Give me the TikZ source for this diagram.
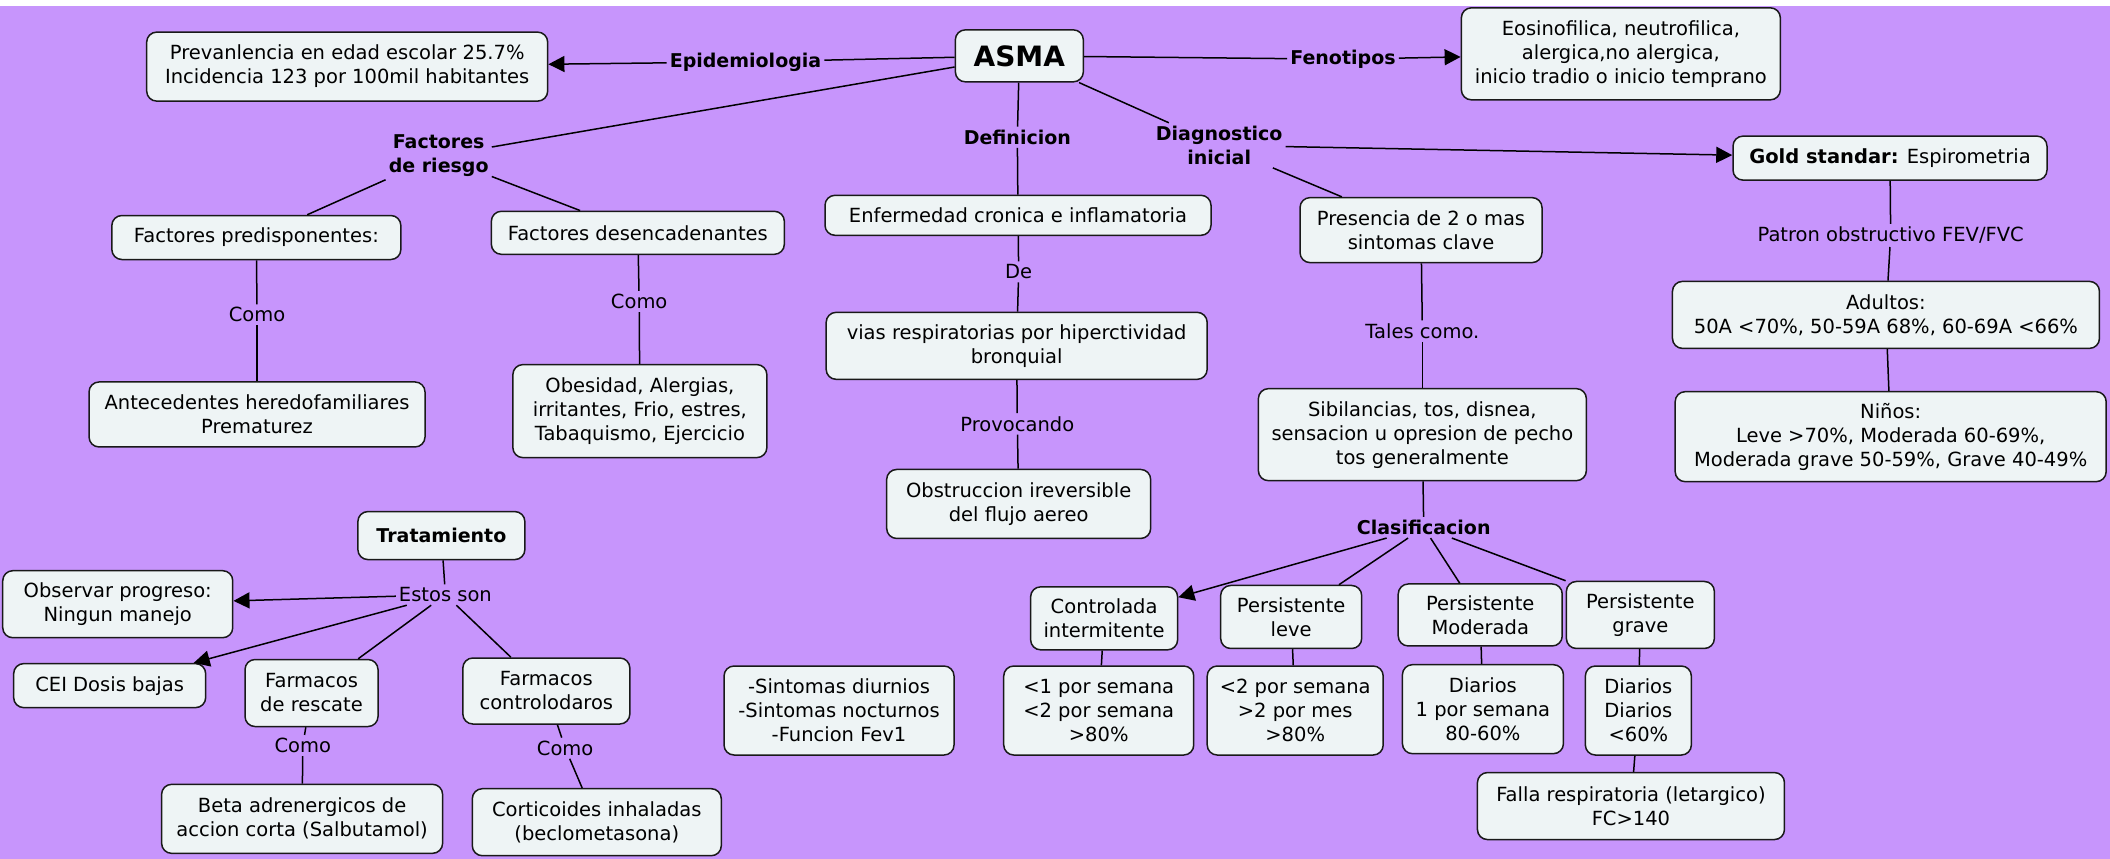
\documentclass[tikz,border=0pt]{standalone}
\usepackage{fontspec}
\setmainfont{DejaVu Sans}
\usetikzlibrary{arrows.meta}
\definecolor{bgp}{RGB}{199,149,252}
\definecolor{boxfill}{RGB}{238,244,245}
\begin{document}
\begin{tikzpicture}[x=1.3457pt,y=-1.3457pt,
  every node/.style={font=\fontsize{19.5}{24}\selectfont, align=center},
  box/.style={draw=black!90, fill=boxfill, rounded corners=10pt, line width=1.5pt, inner sep=2pt},
  lbl/.style={inner sep=3pt},
  blbl/.style={inner sep=3pt, font=\fontsize{19}{24}\selectfont\bfseries},
  conn/.style={line width=1.5pt},
  arr/.style={line width=1.5pt, -{Triangle[length=16pt,width=16pt]}}]
\useasboundingbox (0,0) rectangle (1568,638);
\fill[white] (0,0) rectangle (1568,638);
\fill[bgp] (0,4.5) rectangle (1568,638);

% boxes
\node[box, minimum width=401pt, minimum height=69pt] (prev) at (258,49.5) {Prevanlencia en edad escolar 25.7\%\\Incidencia 123 por 100mil habitantes};
\node[box, minimum width=128pt, minimum height=52pt, font=\fontsize{28}{32}\selectfont\bfseries] (asma) at (757.5,41.5) {ASMA};
\node[box, minimum width=319pt, minimum height=92pt] (feno) at (1204.5,40) {Eosinofilica, neutrofilica,\\alergica,no alergica,\\inicio tradio o inicio temprano};
\node[box, minimum width=314pt, minimum height=44pt] (gold) at (1404.5,117.5) {\textbf{Gold standar:} Espirometria};
\node[box, minimum width=427pt, minimum height=67pt] (adultos) at (1401.5,234) {Adultos:\\50A <70\%, 50-59A 68\%, 60-69A <66\%};
\node[box, minimum width=431pt, minimum height=90pt] (ninos) at (1405,324.5) {Niños:\\Leve >70\%, Moderada 60-69\%,\\Moderada grave 50-59\%, Grave 40-49\%};
\node[box, minimum width=289pt, minimum height=44pt] (fpred) at (190.5,176.5) {Factores predisponentes:};
\node[box, minimum width=293pt, minimum height=43pt] (fdes) at (474,173) {Factores desencadenantes};
\node[box, minimum width=336pt, minimum height=65pt] (antec) at (191,308) {Antecedentes heredofamiliares\\Prematurez};
\node[box, minimum width=254pt, minimum height=93pt] (obes) at (475.5,305.5) {Obesidad, Alergias,\\irritantes, Frio, estres,\\Tabaquismo, Ejercicio};
\node[box, minimum width=386pt, minimum height=40pt] (enf) at (756.5,160) {Enfermedad cronica e inflamatoria};
\node[box, minimum width=381pt, minimum height=67pt] (vias) at (755.5,257) {vias respiratorias por hiperctividad\\bronquial};
\node[box, minimum width=264pt, minimum height=69pt] (obst) at (757,374.5) {Obstruccion ireversible\\del flujo aereo};
\node[box, minimum width=242pt, minimum height=65pt] (pres) at (1056,171) {Presencia de 2 o mas\\sintomas clave};
\node[box, minimum width=328pt, minimum height=92pt] (sib) at (1057,323) {Sibilancias, tos, disnea,\\sensacion u opresion de pecho\\tos generalmente};
\node[box, minimum width=167pt, minimum height=48pt, font=\fontsize{19}{24}\selectfont\bfseries] (trat) at (328,398) {Tratamiento};
\node[box, minimum width=230pt, minimum height=67pt] (obs) at (87.5,449) {Observar progreso:\\Ningun manejo};
\node[box, minimum width=192pt, minimum height=44pt] (cei) at (81.5,509.5) {CEI Dosis bajas};
\node[box, minimum width=133pt, minimum height=67pt] (fresc) at (231.5,515) {Farmacos\\de rescate};
\node[box, minimum width=167pt, minimum height=66pt] (fcont) at (406,513.5) {Farmacos\\controlodaros};
\node[box, minimum width=281pt, minimum height=69pt] (beta) at (224.5,608.5) {Beta adrenergicos de\\accion corta (Salbutamol)};
\node[box, minimum width=249pt, minimum height=67pt] (cort) at (443.5,611) {Corticoides inhaladas\\(beclometasona)};
\node[box, minimum width=230pt, minimum height=89pt] (sint) at (623.5,528) {-Sintomas diurnios\\-Sintomas nocturnos\\-Funcion Fev1};
\node[box, minimum width=147pt, minimum height=63pt] (contr) at (820.5,459.5) {Controlada\\intermitente};
\node[box, minimum width=141pt, minimum height=63pt] (pleve) at (959.5,458.5) {Persistente\\leve};
\node[box, minimum width=164pt, minimum height=62pt] (pmod) at (1100,457) {Persistente\\Moderada};
\node[box, minimum width=148pt, minimum height=67pt] (pgrave) at (1219,457) {Persistente\\grave};
\node[box, minimum width=190pt, minimum height=89pt] (c1) at (816.5,528) {<1 por semana\\<2 por semana\\>80\%};
\node[box, minimum width=176pt, minimum height=89pt] (c2) at (962.5,528) {<2 por semana\\>2 por mes\\>80\%};
\node[box, minimum width=161pt, minimum height=89pt] (c3) at (1102,527) {Diarios\\1 por semana\\80-60\%};
\node[box, minimum width=106pt, minimum height=89pt] (c4) at (1217.5,528) {Diarios\\Diarios\\<60\%};
\node[box, minimum width=307pt, minimum height=67pt] (falla) at (1212,599) {Falla respiratoria (letargico)\\FC>140};

% linking labels
\node[blbl] (epid) at (554,46) {Epidemiologia};
\node[blbl] (fenol) at (998,44) {Fenotipos};
\node[blbl] (riesgo) at (326,116) {Factores\\de riesgo};
\node[blbl] (defin) at (756,102) {Definicion};
\node[blbl] (diag) at (906,108) {Diagnostico\\inicial};
\node[lbl] (como1) at (191,234) {Como};
\node[lbl] (como2) at (475,224) {Como};
\node[lbl] (de) at (757,202) {De};
\node[lbl] (provo) at (756,315) {Provocando};
\node[lbl] (tales) at (1057,246) {Tales como.};
\node[lbl] (patron) at (1405,175) {Patron obstructivo FEV/FVC};
\node[blbl] (clasif) at (1058,392) {Clasificacion};
\node[lbl] (estos) at (331,442) {Estos son};
\node[lbl] (como3) at (225,554) {Como};
\node[lbl] (como4) at (420,556) {Como};

% connectors
\draw[conn] (asma) -- (epid);
\draw[arr] (epid) -- (prev);
\draw[conn] (asma) -- (fenol);
\draw[arr] (fenol) -- (feno);
\draw[conn] (asma) -- (riesgo);
\draw[conn] (riesgo) -- (fpred);
\draw[conn] (riesgo) -- (fdes);
\draw[conn] (fpred) -- (como1);
\draw[conn] (como1) -- (antec);
\draw[conn] (fdes) -- (como2);
\draw[conn] (como2) -- (obes);
\draw[conn] (asma) -- (defin);
\draw[conn] (defin) -- (enf);
\draw[conn] (enf) -- (de);
\draw[conn] (de) -- (vias);
\draw[conn] (vias) -- (provo);
\draw[conn] (provo) -- (obst);
\draw[conn] (asma) -- (diag);
\draw[arr] (diag) -- (gold);
\draw[conn] (diag) -- (pres);
\draw[conn] (pres) -- (tales);
\draw[conn] (tales) -- (sib);
\draw[conn] (sib) -- (clasif);
\draw[conn] (gold) -- (patron);
\draw[conn] (patron) -- (adultos);
\draw[conn] (adultos) -- (ninos);
\draw[arr] (clasif) -- (contr);
\draw[conn] (clasif) -- (pleve);
\draw[conn] (clasif) -- (pmod);
\draw[conn] (clasif) -- (pgrave.north west);
\draw[conn] (contr) -- (c1);
\draw[conn] (pleve) -- (c2);
\draw[conn] (pmod) -- (c3);
\draw[conn] (pgrave) -- (c4);
\draw[conn] (c4) -- (falla);
\draw[conn] (trat) -- (estos);
\draw[arr] (estos) -- (obs);
\draw[arr] (estos) -- (cei);
\draw[conn] (estos) -- (fresc);
\draw[conn] (estos) -- (fcont);
\draw[conn] (fresc) -- (como3);
\draw[conn] (como3) -- (beta);
\draw[conn] (fcont) -- (como4);
\draw[conn] (como4) -- (cort);
\end{tikzpicture}
\end{document}
